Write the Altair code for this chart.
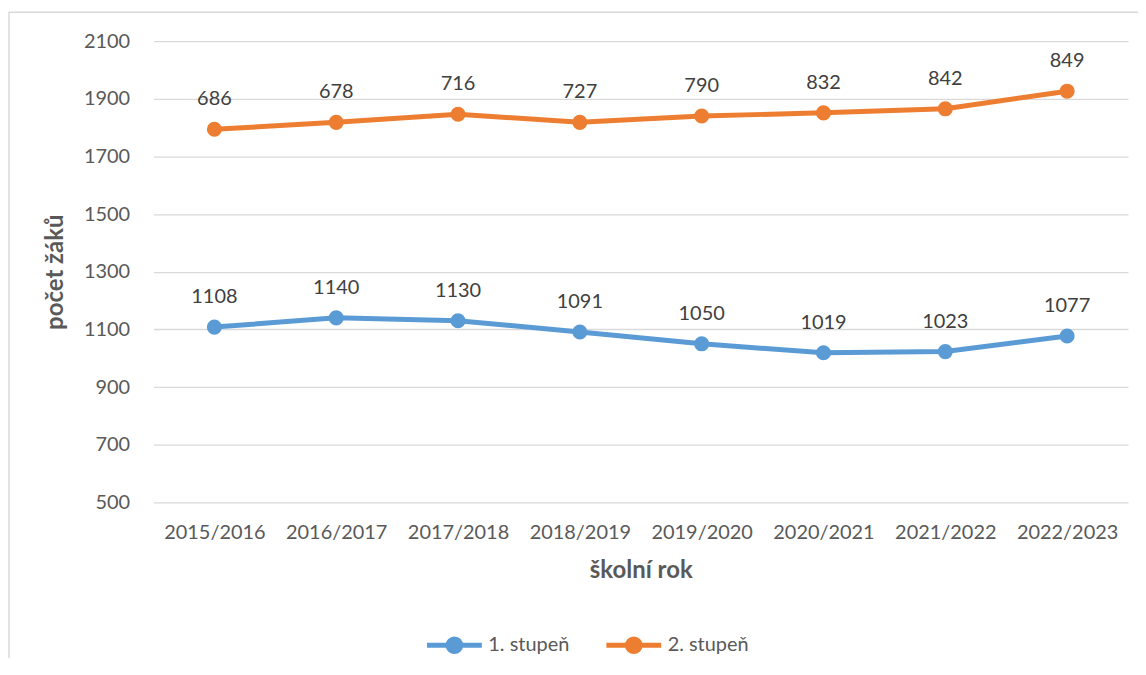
import altair as alt
import pandas as pd

years = ["2015/2016", "2016/2017", "2017/2018", "2018/2019",
         "2019/2020", "2020/2021", "2021/2022", "2022/2023"]
stupen1 = [1108, 1140, 1130, 1091, 1050, 1019, 1023, 1077]
stupen2 = [686, 678, 716, 727, 790, 832, 842, 849]
series = ["1. stupeň", "2. stupeň"]
colors = ["#5B9BD5", "#ED7D31"]
y_ticks = [500, 700, 900, 1100, 1300, 1500, 1700, 1900, 2100]

rows = []
for i, y in enumerate(years):
    rows.append({"rok": y, "serie": series[0], "hodnota": stupen1[i], "ord": 0})
    rows.append({"rok": y, "serie": series[1], "hodnota": stupen2[i], "ord": 1})
df = pd.DataFrame(rows)

FONT = "Lato"
W, H = 978, 463

color = alt.Color(
    "serie:N",
    scale=alt.Scale(domain=series, range=colors),
    legend=alt.Legend(
        title=None, orient="none", direction="horizontal",
        legendX=272, legendY=576,
        symbolType="M-1,0L1,0M-0.23,0A0.23,0.23,0,1,0,0.23,0A0.23,0.23,0,1,0,-0.23,0Z",
        symbolSize=3025, symbolStrokeWidth=5, symbolOpacity=1,
        labelFont=FONT, labelFontSize=20, labelColor="#595959",
        labelOffset=4, columnPadding=26,
    ),
)

base = alt.Chart(df).transform_stack(
    stack="hodnota", groupby=["rok"], as_=["y0", "y1"],
    sort=[alt.SortField("ord", order="ascending")],
)

x = alt.X("rok:N", sort=years, scale=alt.Scale(paddingInner=0, paddingOuter=0.5),
          axis=alt.Axis(title="školní rok", labelAngle=0, domain=False, ticks=False,
                        labelPadding=20, titlePadding=16))
y = alt.Y("y1:Q", scale=alt.Scale(domain=[500, 2100], nice=False, zero=False),
          axis=alt.Axis(title="počet žáků", values=y_ticks, format="d", domain=False, ticks=False,
                        labelPadding=24, titlePadding=16, grid=True))

lines = base.mark_line(strokeWidth=5).encode(x=x, y=y, color=color, detail="serie:N")
points = base.mark_point(filled=True, size=230, opacity=1).encode(
    x=x, y=y, color=alt.Color("serie:N", scale=alt.Scale(domain=series, range=colors), legend=None))
labels = base.mark_text(dy=-30, font=FONT, fontSize=20, color="#404040").encode(
    x=x, y=y, text="hodnota:Q")

frame = alt.Chart(pd.DataFrame({"a": [0]})).mark_rect(
    fill=None, stroke="#D9D9D9", strokeWidth=1.5
).encode(x=alt.value(-145), x2=alt.value(W + 200), y=alt.value(-29), y2=alt.value(H + 300))

chart = alt.layer(frame, lines, points, labels).properties(
    width=W, height=H,
    autosize=alt.AutoSizeParams(type="none"),
    padding={"left": 146, "top": 32, "right": 10, "bottom": 155},
).configure_view(stroke=None).configure_axis(
    labelFont=FONT, labelFontSize=20, labelColor="#595959",
    titleFont=FONT, titleFontSize=24, titleColor="#595959", titleFontWeight="bold",
    gridColor="#D9D9D9", gridWidth=1.3,
).configure_axisX(grid=False)

chart.save("out.html", embed_options={"renderer": "svg", "actions": False})
